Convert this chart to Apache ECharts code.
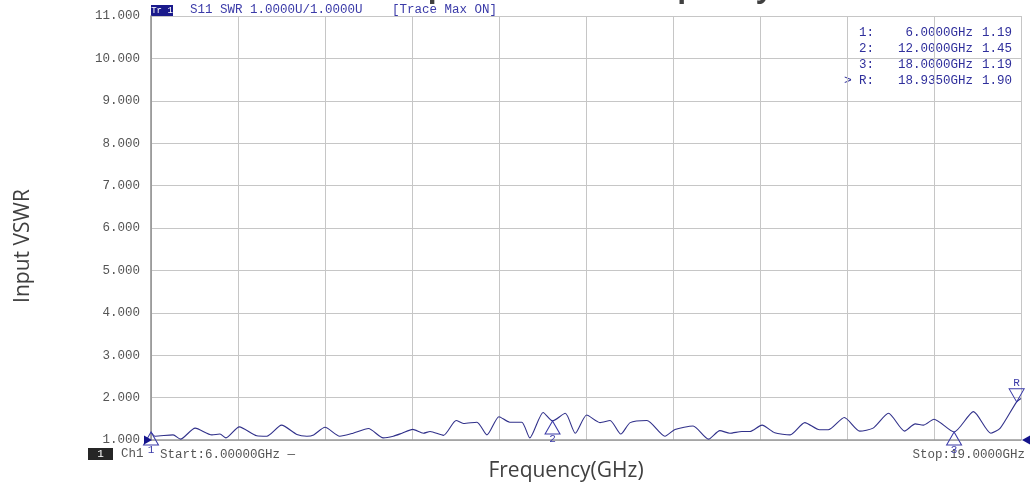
<!DOCTYPE html>
<html>
<head>
<meta charset="utf-8">
<script src="https://cdn.jsdelivr.net/npm/echarts@6/dist/echarts.min.js"></script>
<style>
  html, body { margin: 0; padding: 0; background: #ffffff; }
  #chart { width: 1031px; height: 488px; }
</style>
</head>
<body>
<div id="chart"></div>
<script>
// ---- data ----
const freqGHz = [6.00, 6.06, 6.33, 6.44, 6.66, 6.91, 7.03, 7.12, 7.32, 7.58, 7.73, 7.95, 8.18, 8.33, 8.43, 8.60,
  8.82, 9.02, 9.25, 9.47, 9.62, 9.75, 9.91, 10.07, 10.17, 10.37, 10.56, 10.67, 10.87, 11.02, 11.20, 11.36,
  11.54, 11.66, 11.86, 12.00, 12.19, 12.34, 12.51, 12.71, 12.86, 13.02, 13.16, 13.41, 13.68, 13.83, 14.10,
  14.33, 14.50, 14.65, 14.83, 14.95, 15.13, 15.32, 15.55, 15.77, 15.99, 16.12, 16.36, 16.59, 16.79, 17.02,
  17.26, 17.42, 17.54, 17.70, 18.00, 18.29, 18.55, 18.69, 18.935, 19.00];
const vswr = [1.19, 1.09, 1.12, 1.02, 1.28, 1.12, 1.14, 1.05, 1.31, 1.10, 1.09, 1.35, 1.13, 1.09, 1.12, 1.30,
  1.09, 1.16, 1.27, 1.05, 1.09, 1.16, 1.25, 1.16, 1.20, 1.11, 1.46, 1.39, 1.42, 1.12, 1.55, 1.42,
  1.42, 1.05, 1.65, 1.45, 1.63, 1.16, 1.59, 1.41, 1.46, 1.14, 1.41, 1.46, 1.09, 1.25, 1.33,
  1.02, 1.22, 1.16, 1.20, 1.20, 1.35, 1.17, 1.12, 1.41, 1.24, 1.24, 1.53, 1.21, 1.28, 1.63,
  1.21, 1.38, 1.35, 1.49, 1.19, 1.67, 1.16, 1.28, 1.90, 1.98];

const markerNames = ['1', '2', '3', 'R'];
const markerFreq = [6.0, 12.0, 18.0, 18.935];
const markerVswr = [1.19, 1.45, 1.19, 1.90];
const markerFreqText = ['6.0000GHz', '12.0000GHz', '18.0000GHz', '18.9350GHz'];
const markerValText = ['1.19', '1.45', '1.19', '1.90'];

const yMin = 1, yMax = 11, yStep = 1;
const xStart = 6, xStop = 19;
const startLabel = 'Start:6.00000GHz';
const stopLabel = 'Stop:19.0000GHz';
const traceHeader = 'S11 SWR 1.0000U/1.0000U';
const traceMode = '[Trace Max ON]';
const chartTitle = 'Input VSWR vs. Frequency';
const xTitle = 'Frequency(GHz)';
const yTitle = 'Input VSWR';

// ---- chart ----
const chart = echarts.init(document.getElementById('chart'), null, { renderer: 'canvas' });
const mono = '"Liberation Mono", "DejaVu Sans Mono", monospace';
const blue = '#2f2f9c';
const gridColor = '#c6c6c6';

const markData = markerNames.map((n, i) => {
  const isRef = n === 'R';
  return {
    name: n,
    coord: [markerFreq[i], markerVswr[i]],
    symbol: 'triangle',
    symbolSize: [15, 13],
    symbolRotate: isRef ? 180 : 0,
    symbolOffset: [0, isRef ? -6.5 : 6.5],
    itemStyle: { color: 'rgba(255,255,255,0)', borderColor: '#3a3aa8', borderWidth: 1 },
    label: {
      show: true, formatter: n, position: isRef ? 'top' : 'bottom', distance: isRef ? 0 : -1,
      color: '#3a3aa8', fontFamily: mono, fontSize: 11
    }
  };
});
markData.push({
  name: 'refL', coord: [xStart, yMin], symbol: 'triangle', symbolSize: [9, 8], symbolRotate: -90,
  symbolOffset: [-3, 0], itemStyle: { color: '#14148c' }, label: { show: false }
});
markData.push({
  name: 'refR', coord: [xStop, yMin], symbol: 'triangle', symbolSize: [9, 8], symbolRotate: 90,
  symbolOffset: [5, 0], itemStyle: { color: '#14148c' }, label: { show: false }
});

const tableGraphics = [];
markerNames.forEach((n, i) => {
  const y = 32.5 + i * 16;
  tableGraphics.push({ type: 'text', x: 859, y: y, style: { text: n + ':', fill: blue, font: '12.5px ' + mono, textVerticalAlign: 'middle' } });
  tableGraphics.push({ type: 'text', x: 973, y: y, style: { text: markerFreqText[i], fill: blue, font: '12.5px ' + mono, textAlign: 'right', textVerticalAlign: 'middle' } });
  tableGraphics.push({ type: 'text', x: 982, y: y, style: { text: markerValText[i], fill: blue, font: '12.5px ' + mono, textVerticalAlign: 'middle' } });
});
tableGraphics.push({ type: 'text', x: 844, y: 80.5, style: { text: '>', fill: blue, font: '13px ' + mono, textVerticalAlign: 'middle' } });

const option = {
  backgroundColor: '#ffffff',
  animation: false,
  grid: { left: 151, right: 10, top: 16, bottom: 48, containLabel: false },
  xAxis: [
    {
      type: 'value', min: xStart, max: xStop, position: 'bottom',
      axisLine: { show: true, lineStyle: { color: '#9a9a9a', width: 1.5 } },
      axisTick: { show: false }, axisLabel: { show: false }, splitLine: { show: false },
      name: xTitle, nameLocation: 'middle', nameGap: 21,
      nameTextStyle: { fontFamily: '"Open Sans", sans-serif', fontSize: 21, color: '#404040', padding: [0, 40, 0, 0] }
    },
    {
      type: 'value', min: 0, max: 10, interval: 1, position: 'bottom',
      axisLine: { show: false }, axisTick: { show: false }, axisLabel: { show: false },
      splitLine: { show: true, lineStyle: { color: gridColor, width: 1 } }
    }
  ],
  yAxis: {
    type: 'value', min: yMin, max: yMax, interval: yStep,
    axisLine: { show: true, lineStyle: { color: '#8c8c8c', width: 1.5 } },
    axisTick: { show: false },
    splitLine: { show: true, lineStyle: { color: gridColor, width: 1 } },
    axisLabel: {
      formatter: v => v.toFixed(3), fontFamily: mono, fontSize: 12.5, color: '#555555', margin: 11
    },
    name: yTitle, nameLocation: 'middle', nameGap: 117, nameRotate: 90,
    nameTextStyle: { fontFamily: '"Open Sans", sans-serif', fontSize: 21, color: '#404040', padding: [0, 36, 0, 0] }
  },
  series: [{
    type: 'line', xAxisIndex: 0, yAxisIndex: 0,
    data: freqGHz.map((f, i) => [f, vswr[i]]),
    smooth: 0.22, symbol: 'none',
    lineStyle: { color: '#30308a', width: 1.1 },
    markPoint: { silent: true, data: markData }
  }],
  graphic: [
    { type: 'text', x: 586, y: -11, style: { text: chartTitle, fill: '#404040', font: 'bold 29px "Open Sans", sans-serif', textAlign: 'center', textVerticalAlign: 'middle' } },
    { type: 'rect', shape: { x: 151, y: 5, width: 22, height: 11 }, style: { fill: '#1a1a8c' } },
    { type: 'text', x: 162, y: 10.5, style: { text: 'Tr 1', fill: '#ffffff', font: '9px ' + mono, textAlign: 'center', textVerticalAlign: 'middle' } },
    { type: 'text', x: 190, y: 10, style: { text: traceHeader, fill: '#3a3aa8', font: '12.5px ' + mono, textVerticalAlign: 'middle' } },
    { type: 'text', x: 392, y: 10, style: { text: traceMode, fill: '#3a3aa8', font: '12.5px ' + mono, textVerticalAlign: 'middle' } },
    { type: 'rect', shape: { x: 88, y: 448, width: 25, height: 12 }, style: { fill: '#262626' } },
    { type: 'text', x: 100.5, y: 454, style: { text: '1', fill: '#ffffff', font: '11px ' + mono, textAlign: 'center', textVerticalAlign: 'middle' } },
    { type: 'text', x: 121, y: 454, style: { text: 'Ch1', fill: '#555555', font: '12.5px ' + mono, textVerticalAlign: 'middle' } },
    { type: 'text', x: 160, y: 455, style: { text: startLabel + ' \u2014', fill: '#555555', font: '12.5px ' + mono, textVerticalAlign: 'middle' } },
    { type: 'text', x: 1025, y: 455, style: { text: stopLabel, fill: '#555555', font: '12.5px ' + mono, textAlign: 'right', textVerticalAlign: 'middle' } }
  ].concat(tableGraphics)
};
chart.setOption(option);
</script>
</body>
</html>
